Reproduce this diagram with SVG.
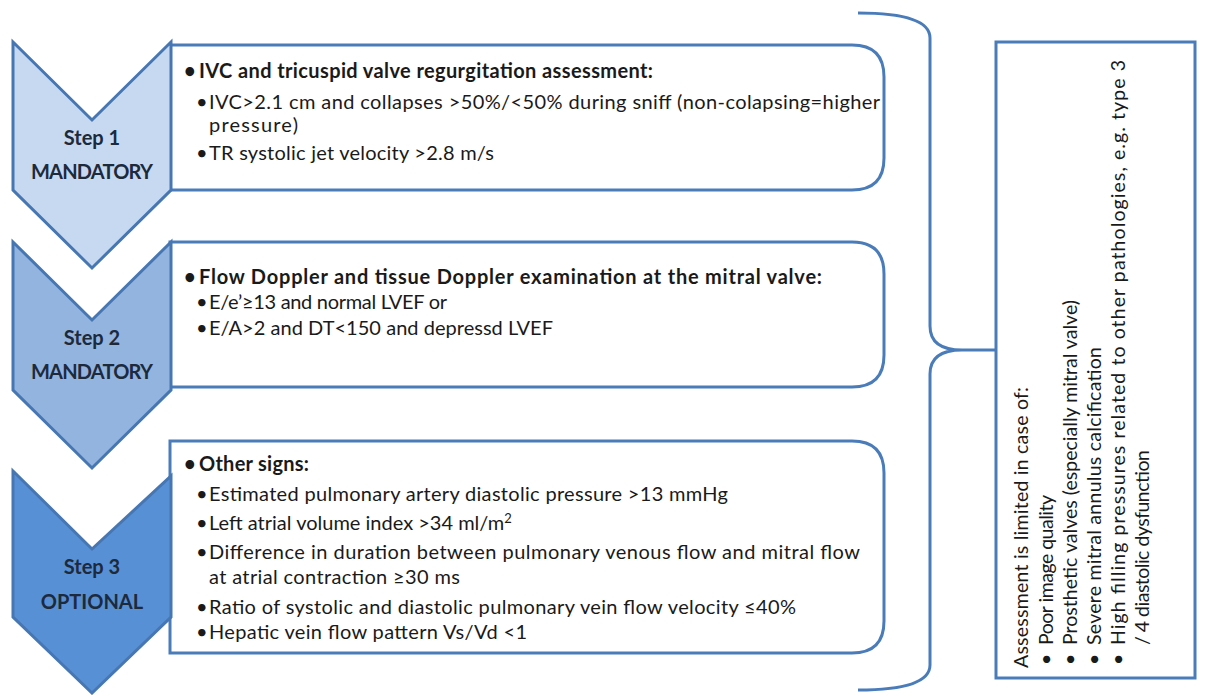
<svg xmlns="http://www.w3.org/2000/svg" width="1211" height="695" viewBox="0 0 1211 695">
<style>
.bg{fill:#ffffff}
.chev{stroke:#4777b3;stroke-width:3;stroke-linejoin:miter}
.box{fill:#ffffff;stroke:#4a7cba;stroke-width:3}
.lbl{font-family:Lato,"Liberation Sans",sans-serif;font-weight:bold;font-size:20px;fill:#1c2a3c;text-anchor:middle}
.t{font-family:Lato,"Liberation Sans",sans-serif;font-size:20px;fill:#1a1a1a}
.b{font-weight:bold}
.r{font-family:Lato,"Liberation Sans",sans-serif;font-size:19.5px;fill:#1a1a1a}
.brace{fill:none;stroke:#4a7cba;stroke-width:3}
</style>
<rect class="bg" x="0" y="0" width="1211" height="695"/>

<g id="box1">
<path class="box" d="M170,45 H852 Q884,45 884,77 V158 Q884,190 852,190 H170 Z"/>
<text class="t b" x="184" y="78">•</text><text class="t b" x="199" y="78" textLength="454">IVC and tricuspid valve regurgitation assessment:</text>
<text class="t" x="196" y="109">•</text><text class="t" x="209" y="109" textLength="671">IVC&gt;2.1 cm  and collapses &gt;50%/&lt;50% during  sniff (non-colapsing=higher</text>
<text class="t" x="209" y="132" textLength="89">pressure)</text>
<text class="t" x="196" y="160">•</text><text class="t" x="209" y="160" textLength="285">TR systolic jet velocity &gt;2.8 m/s</text>
</g>

<g id="box2">
<path class="box" d="M170,242 H852 Q884,242 884,274 V355 Q884,387 852,387 H170 Z"/>
<text class="t b" x="184" y="284">•</text><text class="t b" x="199" y="284" textLength="623">Flow Doppler and tissue Doppler examination at the mitral valve:</text>
<text class="t" x="196" y="309">•</text><text class="t" x="209" y="309" textLength="238">E/e’≥13 and normal  LVEF or</text>
<text class="t" x="196" y="335">•</text><text class="t" x="209" y="335" textLength="344">E/A&gt;2 and DT&lt;150 and depressd LVEF</text>
</g>

<g id="box3">
<path class="box" d="M170,441 H852 Q884,441 884,473 V621 Q884,653 852,653 H170 Z"/>
<text class="t b" x="184" y="471">•</text><text class="t b" x="199" y="471" textLength="110">Other signs:</text>
<text class="t" x="196" y="501">•</text><text class="t" x="209" y="501" textLength="519">Estimated pulmonary  artery diastolic pressure &gt;13 mmHg</text>
<text class="t" x="196" y="530">•</text><text class="t" x="209" y="530">Left atrial volume  index &gt;34 ml/m<tspan dy="-7" font-size="13">2</tspan></text>
<text class="t" x="196" y="559">•</text><text class="t" x="209" y="559" textLength="651">Difference in duration  between pulmonary  venous flow and mitral flow</text>
<text class="t" x="209" y="584" textLength="251">at atrial contraction ≥30 ms</text>
<text class="t" x="196" y="614">•</text><text class="t" x="209" y="614" textLength="587">Ratio of systolic and diastolic pulmonary vein flow  velocity ≤40%</text>
<text class="t" x="196" y="639">•</text><text class="t" x="209" y="639" textLength="318">Hepatic vein flow pattern Vs/Vd &lt;1</text>
</g>

<g id="step1">
<polygon class="chev" fill="#c6d9f0" points="13,42 92,120 171,42 171,190 92,268 13,190"/>
<text class="lbl" x="92" y="145">Step 1</text>
<text class="lbl" x="92" y="179" textLength="122">MANDATORY</text>
</g>
<g id="step2">
<polygon class="chev" fill="#93b4df" points="13,242 92,320 171,242 171,390 92,468 13,390"/>
<text class="lbl" x="92" y="345">Step 2</text>
<text class="lbl" x="92" y="379" textLength="122">MANDATORY</text>
</g>
<g id="step3">
<polygon class="chev" fill="#5890d6" points="13,471 92,549 171,476 171,617 92,693 13,617"/>
<text class="lbl" x="92" y="574">Step 3</text>
<text class="lbl" x="92" y="609">OPTIONAL</text>
</g>

<g id="connectors">
<path class="brace" d="M858,13 Q930,13 930,38 L930,326 Q930,350 962,350 L996,350 M962,350 Q930,350 930,374 L930,665 Q930,690 858,690"/>
</g>

<g id="limits">
<rect class="box" x="996" y="42" width="199" height="636" stroke-width="2.5"/>
<g transform="rotate(-90)">
<text class="r" x="-668" y="1028" textLength="281">Assessment is limited in case of:</text>
<text class="r" x="-665" y="1053">•</text><text class="r" x="-645" y="1053" textLength="150">Poor image quality</text>
<text class="r" x="-665" y="1077">•</text><text class="r" x="-645" y="1077" textLength="345">Prosthetic valves (especially mitral valve)</text>
<text class="r" x="-665" y="1101">•</text><text class="r" x="-645" y="1101" textLength="298">Severe mitral annulus calcification</text>
<text class="r" x="-665" y="1125">•</text><text class="r" x="-645" y="1125" textLength="585">High filling pressures related to other pathologies, e.g. type 3</text>
<text class="r" x="-645" y="1149" textLength="195">/ 4 diastolic dysfunction</text>
</g>
</g>
</svg>
